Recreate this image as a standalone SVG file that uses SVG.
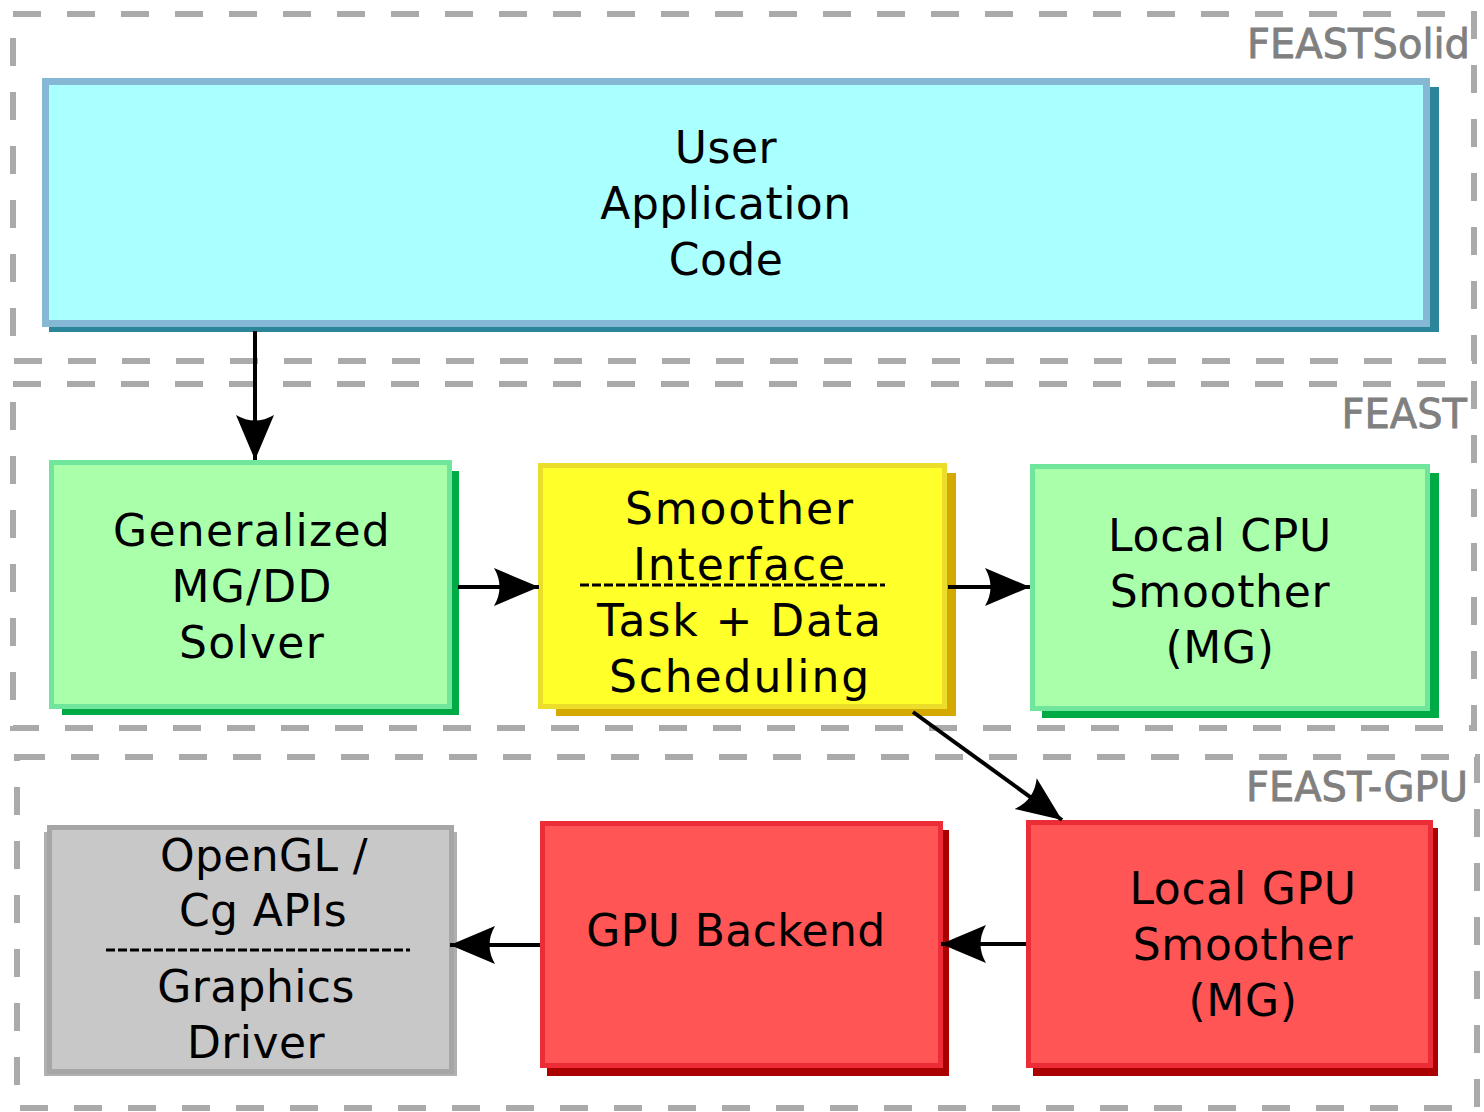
<svg xmlns="http://www.w3.org/2000/svg" width="1484" height="1112" viewBox="0 0 1484 1112">
  <style>
    .grp { fill: none; stroke: #aaaaaa; stroke-width: 6; stroke-dasharray: 28 26; }
    .grplabel { font-family: "DejaVu Sans", "Liberation Sans", sans-serif; font-size: 40px; fill: #808080; stroke: #808080; stroke-width: 0.8; text-anchor: end; }
    .lbl { font-family: "DejaVu Sans", "Liberation Sans", sans-serif; font-size: 44px; fill: #000000; text-anchor: middle; }
    .sep { stroke: #000000; stroke-width: 3; stroke-dasharray: 9 3; fill: none; }
    .conn { stroke: #000000; stroke-width: 4; fill: none; marker-end: url(#head); }
    .cyan { fill: #aaffff; stroke: #85b8d4; stroke-width: 7; }
    .cyan-sh { fill: #2b869c; }
    .green { fill: #aaffaa; stroke: #70e69c; stroke-width: 5; }
    .green-sh { fill: #00aa44; }
    .yellow { fill: #ffff2a; stroke: #ebdd2a; stroke-width: 5; }
    .yellow-sh { fill: #d4aa00; }
    .red { fill: #ff5555; stroke: #ec2d38; stroke-width: 5; }
    .red-sh { fill: #aa0000; }
    .gray { fill: #c8c8c8; stroke: #a6a6a6; stroke-width: 5; }
    .gray-sh { fill: #b0b0b0; }
  </style>
  <defs>
    <marker id="head" markerUnits="userSpaceOnUse" viewBox="0 0 46 40" refX="45" refY="20" markerWidth="46" markerHeight="40" orient="auto">
      <path d="M45,20 L0,1 Q11,20 0,39 Z" fill="#000000"/>
    </marker>
  </defs>

  <!-- layer outlines -->
  <g id="layer-feastsolid">
    <rect class="grp" x="13" y="14" width="1461" height="347"/>
    <text class="grplabel" x="1470" y="58">FEASTSolid</text>
  </g>
  <g id="layer-feast">
    <rect class="grp" x="13" y="384" width="1461" height="344"/>
    <text class="grplabel" x="1467" y="428">FEAST</text>
  </g>
  <g id="layer-feast-gpu">
    <rect class="grp" x="17" y="757" width="1460" height="351"/>
    <text class="grplabel" x="1468" y="801">FEAST-GPU</text>
  </g>

  <!-- nodes -->
  <g id="user-app" letter-spacing="0.5">
    <rect class="cyan-sh" x="49" y="87" width="1390" height="245"/>
    <rect class="cyan" x="45.5" y="81.5" width="1381" height="242"/>
    <text class="lbl" x="726" y="163">User</text>
    <text class="lbl" x="726" y="219">Application</text>
    <text class="lbl" x="726" y="275">Code</text>
  </g>

  <g id="mgdd-solver" letter-spacing="1.3">
    <rect class="green-sh" x="62" y="471" width="397" height="244"/>
    <rect class="green" x="51.5" y="462.5" width="398" height="244"/>
    <text class="lbl" x="252" y="546">Generalized</text>
    <text class="lbl" x="252" y="602">MG/DD</text>
    <text class="lbl" x="252" y="658">Solver</text>
  </g>

  <g id="smoother-interface" letter-spacing="1.9">
    <rect class="yellow-sh" x="556" y="473" width="400" height="243"/>
    <rect class="yellow" x="540.5" y="465.5" width="404" height="241"/>
    <text class="lbl" x="740" y="524">Smoother</text>
    <text class="lbl" x="740" y="580">Interface</text>
    <line class="sep" x1="580" y1="585" x2="885" y2="585"/>
    <text class="lbl" x="740" y="636">Task + Data</text>
    <text class="lbl" x="740" y="692">Scheduling</text>
  </g>

  <g id="local-cpu-smoother" letter-spacing="0.7">
    <rect class="green-sh" x="1042" y="473" width="397" height="245"/>
    <rect class="green" x="1032.5" y="466.5" width="395" height="242"/>
    <text class="lbl" x="1220" y="551">Local CPU</text>
    <text class="lbl" x="1220" y="607">Smoother</text>
    <text class="lbl" x="1220" y="663">(MG)</text>
  </g>

  <g id="opengl-driver" letter-spacing="0.4">
    <rect class="gray-sh" x="44" y="832" width="413" height="244"/>
    <rect class="gray" x="49.5" y="827.5" width="402" height="244"/>
    <text class="lbl" x="264" y="871">OpenGL /</text>
    <text class="lbl" x="263" y="926">Cg APIs</text>
    <line class="sep" x1="106" y1="950" x2="410" y2="950"/>
    <text class="lbl" x="256" y="1002">Graphics</text>
    <text class="lbl" x="256" y="1058">Driver</text>
  </g>

  <g id="gpu-backend" letter-spacing="0.4">
    <rect class="red-sh" x="547" y="830" width="402" height="246"/>
    <rect class="red" x="542.5" y="823.5" width="398" height="242"/>
    <text class="lbl" x="736" y="946">GPU Backend</text>
  </g>

  <g id="local-gpu-smoother" letter-spacing="0.7">
    <rect class="red-sh" x="1033" y="828" width="405" height="248"/>
    <rect class="red" x="1028.5" y="822.5" width="402" height="243"/>
    <text class="lbl" x="1243" y="904">Local GPU</text>
    <text class="lbl" x="1243" y="960">Smoother</text>
    <text class="lbl" x="1243" y="1016">(MG)</text>
  </g>

  <!-- connectors -->
  <g id="connectors">
    <line class="conn" x1="255" y1="331" x2="255" y2="460"/>
    <line class="conn" x1="458" y1="587" x2="539" y2="587"/>
    <line class="conn" x1="948" y1="587" x2="1030" y2="587"/>
    <line class="conn" x1="913" y1="712" x2="1062" y2="820"/>
    <line class="conn" x1="540" y1="945" x2="450" y2="945"/>
    <line class="conn" x1="1026" y1="944" x2="941" y2="944"/>
  </g>
</svg>
